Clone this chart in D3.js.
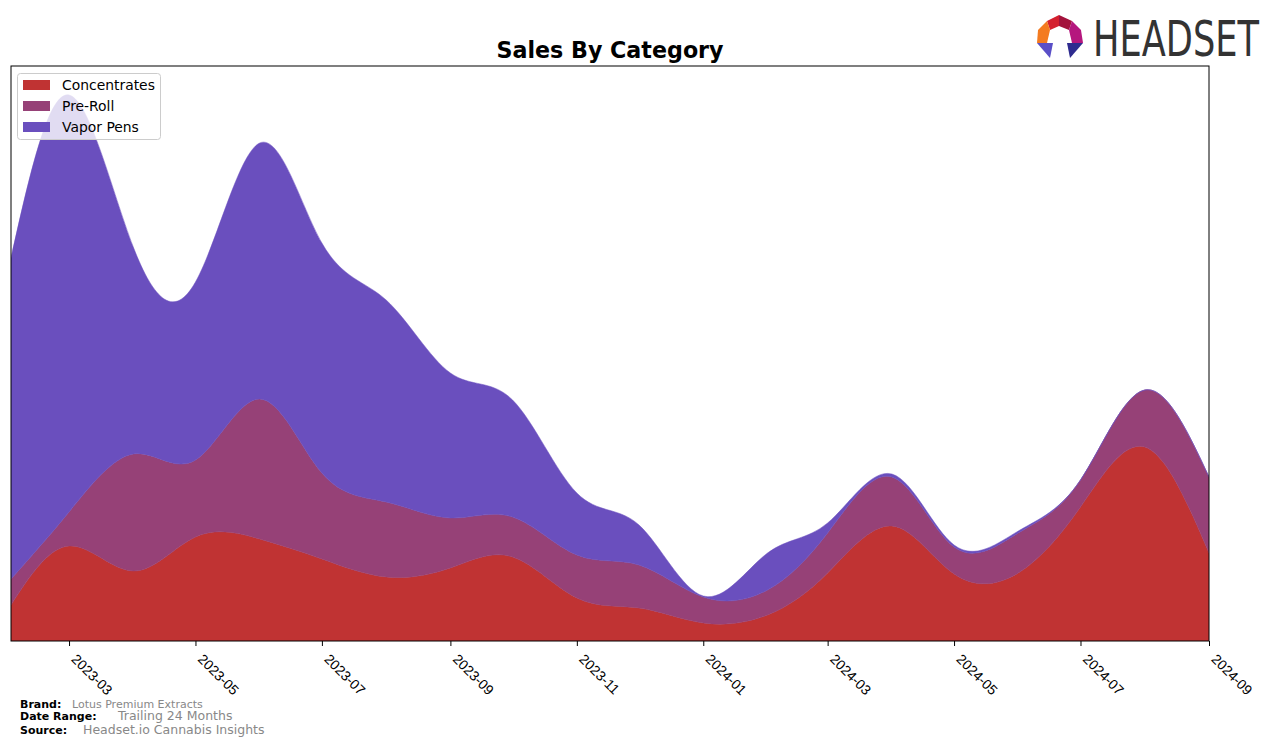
<!DOCTYPE html>
<html>
<head>
<meta charset="utf-8">
<script src="https://cdn.jsdelivr.net/npm/d3@7"></script>
<style>
  html, body { margin: 0; padding: 0; background: #fff; }
  svg { display: block; font-family: "DejaVu Sans", sans-serif; }
</style>
</head>
<body>
<svg id="chart" width="1276" height="745"></svg>
<script>
// ---- data ----
const months = ["2023-02","2023-03","2023-04","2023-05","2023-06","2023-07","2023-08","2023-09","2023-10","2023-11","2023-12",
                "2024-01","2024-02","2024-03","2024-04","2024-05","2024-06","2024-07","2024-08","2024-09"];
const concentrates = [36, 95, 70, 104, 102, 82, 64, 73, 84, 43, 33, 18, 26, 68, 115, 67, 68, 134, 194, 88];
const preRoll      = [26, 34, 117, 77, 140, 86, 75, 50, 40, 43, 43, 26, 25, 40, 49, 27, 40, 27, 57, 76];
const vaporPens    = [321, 417, 207, 178, 256, 230, 202, 145, 117, 62, 40, 1, 37, 10, 3, 2, 2, 0, 0, 0];
const categories = ["Concentrates", "Pre-Roll", "Vapor Pens"];
const colors = ["#c03333", "#964177", "#6a4fbe"];
const tickLabels = ["2023-03","2023-05","2023-07","2023-09","2023-11","2024-01","2024-03","2024-05","2024-07","2024-09"];

const parse = d3.utcParse("%Y-%m");
const table = months.map((m, i) => ({
  date: parse(m),
  "Concentrates": concentrates[i],
  "Pre-Roll": preRoll[i],
  "Vapor Pens": vaporPens[i]
}));

const svg = d3.select("#chart");
const L = 11, R = 1209, T = 66, B = 641;

const x = d3.scaleUtc().domain([parse(months[0]), parse(months[months.length - 1])]).range([L, R]);
const y = d3.scaleLinear().domain([0, 575]).range([B, T]);

const stack = d3.stack().keys(categories);
const series = stack(table);

const area = d3.area()
  .x(d => x(d.data.date))
  .y0(d => y(d[0]))
  .y1(d => y(d[1]))
  .curve(d3.curveNatural);

svg.append("defs").append("clipPath").attr("id", "clip")
  .append("rect").attr("x", L).attr("y", T).attr("width", R - L).attr("height", B - T);

svg.append("g").attr("clip-path", "url(#clip)")
  .selectAll("path").data(series).join("path")
  .attr("d", area)
  .attr("fill", (d, i) => colors[i])
  .attr("stroke", (d, i) => colors[i])
  .attr("stroke-width", 0.5);

// frame
svg.append("rect").attr("x", L).attr("y", T).attr("width", R - L).attr("height", B - T)
  .attr("fill", "none").attr("stroke", "#000").attr("stroke-width", 1);

// x axis
const tickDates = tickLabels.map(parse);
const ax = svg.append("g").attr("transform", `translate(0,${B})`)
  .call(d3.axisBottom(x).tickValues(tickDates).tickFormat(d3.utcFormat("%Y-%m")).tickSize(5).tickPadding(0));
ax.select(".domain").remove();
ax.selectAll("line").attr("stroke", "#000");
ax.selectAll("text")
  .attr("font-size", "13.9px")
  .attr("fill", "#000")
  .attr("text-anchor", "start")
  .attr("dy", null)
  .attr("y", 0)
  .attr("transform", "translate(1,19) rotate(45)");

// title
svg.append("text").attr("x", (L + R) / 2).attr("y", 58)
  .attr("text-anchor", "middle").attr("font-size", "22.2px").attr("font-weight", "bold")
  .text("Sales By Category");

// legend
const lg = svg.append("g");
lg.append("rect").attr("x", 17.5).attr("y", 73.5).attr("width", 143).attr("height", 66).attr("rx", 3)
  .attr("fill", "#fff").attr("fill-opacity", 0.8).attr("stroke", "#cccccc");
categories.forEach((c, i) => {
  lg.append("rect").attr("x", 23).attr("y", 80 + i * 21).attr("width", 27).attr("height", 10).attr("fill", colors[i]);
  lg.append("text").attr("x", 62).attr("y", 90 + i * 21).attr("font-size", "13.9px").text(c);
});

// footer
const foot = [
  {label: "Brand:", value: "Lotus Premium Extracts", y: 708, vx: 72, vs: 11},
  {label: "Date Range:", value: "Trailing 24 Months", y: 720, vx: 118, vs: 12.5},
  {label: "Source:", value: "Headset.io Cannabis Insights", y: 733.5, vx: 83, vs: 12.5}
];
foot.forEach(f => {
  svg.append("text").attr("x", 20).attr("y", f.y).attr("font-size", "11px").attr("font-weight", "bold").text(f.label);
  svg.append("text").attr("x", f.vx).attr("y", f.y).attr("font-size", f.vs + "px").attr("fill", "#888").text(f.value);
});

// logo
const logo = svg.append("g");
logo.append("polygon").attr("points", "1047,21 1059,15 1059,26 1050,30").attr("fill", "#d4202f");
logo.append("polygon").attr("points", "1059,15 1072,21 1069,30 1059,26").attr("fill", "#a3123c");
logo.append("polygon").attr("points", "1047,21 1050,30 1047,43 1037,43 1038,30").attr("fill", "#f47b20");
logo.append("polygon").attr("points", "1072,21 1081,30 1083,43 1072,43 1069,30").attr("fill", "#b5177e");
logo.append("polygon").attr("points", "1037,43 1053,43 1050,58").attr("fill", "#5a4fc7");
logo.append("polygon").attr("points", "1067,43 1083,43 1070,58").attr("fill", "#2e2b8f");
logo.append("g").attr("transform", "translate(1093,56) scale(1,1.24)")
  .append("text").attr("x", 0).attr("y", 0).attr("font-size", "40px")
  .attr("font-family", "'DejaVu Sans Condensed', 'Liberation Sans Narrow', sans-serif")
  .attr("fill", "#333").attr("textLength", 166).attr("lengthAdjust", "spacingAndGlyphs")
  .text("HEADSET");
</script>
</body>
</html>
